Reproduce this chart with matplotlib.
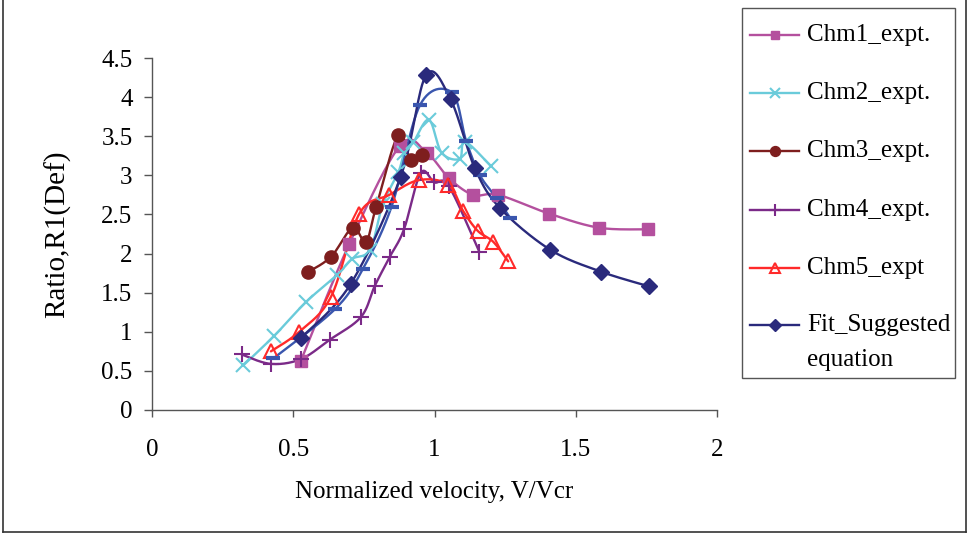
import numpy as np
import matplotlib
matplotlib.use("Agg")
import matplotlib.pyplot as plt
from matplotlib.lines import Line2D
from matplotlib.patches import Rectangle

# ---- data -------------------------------------------------------------
chm1_x = [0.527, 0.698, 0.878, 0.972, 1.052, 1.137, 1.226, 1.406, 1.583, 1.757]
chm1_y = [0.63, 2.12, 3.38, 3.29, 2.96, 2.75, 2.75, 2.51, 2.33, 2.31]

chm2_x = [0.323, 0.433, 0.545, 0.656, 0.708, 0.772, 0.817, 0.872, 0.893, 0.925,
          0.980, 1.025, 1.089, 1.108, 1.199]
chm2_y = [0.57, 0.95, 1.38, 1.73, 1.93, 2.05, 2.63, 3.04, 3.28, 3.42,
          3.71, 3.29, 3.21, 3.43, 3.12]

chm3_x = [0.551, 0.634, 0.710, 0.757, 0.793, 0.872, 0.916, 0.955]
chm3_y = [1.76, 1.96, 2.33, 2.15, 2.59, 3.52, 3.19, 3.26]

chm4_x = [0.317, 0.420, 0.527, 0.630, 0.740, 0.789, 0.842, 0.892, 0.951, 0.999,
          1.051, 1.159]
chm4_y = [0.71, 0.59, 0.65, 0.90, 1.19, 1.59, 1.96, 2.31, 3.03, 2.91,
          2.86, 2.02]

chm5_x = [0.421, 0.521, 0.634, 0.734, 0.840, 0.946, 1.049, 1.102, 1.153, 1.208, 1.261]
chm5_y = [0.75, 1.00, 1.45, 2.51, 2.75, 2.94, 2.88, 2.54, 2.29, 2.15, 1.90]

fit_x = [0.527, 0.703, 0.880, 0.970, 1.057, 1.143, 1.232, 1.409, 1.588, 1.760]
fit_y = [0.92, 1.61, 2.98, 4.28, 3.97, 3.09, 2.58, 2.05, 1.77, 1.58]

calc_x = [0.430, 0.648, 0.746, 0.848, 0.949, 1.061, 1.112, 1.161, 1.220, 1.267]
calc_y = [0.66, 1.29, 1.80, 2.60, 3.90, 4.06, 3.44, 3.00, 2.71, 2.46]

x_ticks = [0, 0.5, 1, 1.5, 2]
y_ticks = [0, 0.5, 1, 1.5, 2, 2.5, 3, 3.5, 4, 4.5]

# ---- figure -----------------------------------------------------------
plt.rcParams['font.family'] = ['Liberation Serif', 'DejaVu Serif']
W, H = 970, 536
fig = plt.figure(figsize=(W / 100, H / 100), dpi=100)

L, R, B, T = 152, 717, 410, 58
ax = fig.add_axes([L / W, 1 - B / H, (R - L) / W, (B - T) / H])
ax.set_xlim(0, 2)
ax.set_ylim(0, 4.5)
ax.set_xticks(x_ticks)
ax.set_xticklabels([f"{v:g}" for v in x_ticks])
ax.set_yticks(y_ticks)
ax.set_yticklabels([f"{v:g}" for v in y_ticks])
for s in ("top", "right"):
    ax.spines[s].set_visible(False)
for s in ("left", "bottom"):
    ax.spines[s].set_color("#555555")
    ax.spines[s].set_linewidth(1.0)
ax.tick_params(axis="y", direction="out", length=6, width=1, color="#555555",
               labelsize=18, pad=8)
ax.tick_params(axis="x", direction="out", length=5, width=1, color="#555555",
               labelsize=18, pad=16)
ax.set_xlabel("Normalized velocity, V/Vcr", fontsize=18, labelpad=14)
ax.set_ylabel("Ratio,R1(Def)", fontsize=21, labelpad=22)


def smooth(xs, ys, n=30):
    """Bezier smoothing through the points, computed in display space."""
    pts = ax.transData.transform(np.column_stack([xs, ys]))
    P = np.vstack([pts[0], pts, pts[-1]])
    out = []
    for i in range(1, len(P) - 2):
        p0, p1 = P[i], P[i + 1]
        c1 = p0 + (P[i + 1] - P[i - 1]) / 6.0
        c2 = p1 - (P[i + 2] - P[i]) / 6.0
        t = np.linspace(0, 1, n)[:, None]
        seg = ((1 - t) ** 3) * p0 + 3 * ((1 - t) ** 2) * t * c1 \
            + 3 * (1 - t) * t ** 2 * c2 + t ** 3 * p1
        out.append(seg if i == 1 else seg[1:])
    curve = ax.transData.inverted().transform(np.vstack(out))
    return curve[:, 0], curve[:, 1]


series = [
    # x, y, colour, marker, size, face, edge width, label
    (chm1_x, chm1_y, "#B4509E", "s", 8.5, "#B4509E", 1.0, "Chm1_expt."),
    (chm2_x, chm2_y, "#6ACBDA", "x", 10, "#6ACBDA", 1.5, "Chm2_expt."),
    (chm3_x, chm3_y, "#7E1E1E", "o", 9.5, "#7E1E1E", 1.0, "Chm3_expt."),
    (chm4_x, chm4_y, "#7B2A88", "+", 12, "#7B2A88", 1.5, "Chm4_expt."),
    (chm5_x, chm5_y, "#FF2A2A", "^", 10, "none", 1.5, "Chm5_expt"),
    (calc_x, calc_y, "#3A56AE", "_", 10, "#3A56AE", 3.0, None),
    (fit_x, fit_y, "#2A2A7C", "D", 8, "#2A2A7C", 1.0, "Fit_Suggested\nequation"),
]

for xs, ys, c, m, ms, fc, mew, lab in series:
    sx, sy = smooth(xs, ys)
    ax.plot(sx, sy, color=c, lw=1.7, solid_capstyle="round", zorder=2)
    ax.plot(xs, ys, ls="none", marker=m, ms=ms, mfc=fc, mec=c, mew=mew, zorder=3)

# ---- legend box -------------------------------------------------------
fig.add_artist(Rectangle((742 / W, 1 - 378 / H), (955 - 742) / W, (378 - 8) / H,
                         transform=fig.transFigure, fill=False,
                         edgecolor="#555555", lw=1.0))
rows = [35, 93, 151, 210, 268, 325]
legend_series = [s for s in series if s[7] is not None]
for (xs, ys, c, m, ms, fc, mew, lab), yy in zip(legend_series, rows):
    yf = 1 - yy / H
    fig.add_artist(Line2D([750 / W, 799 / W], [yf, yf], transform=fig.transFigure,
                          color=c, lw=1.7))
    fig.add_artist(Line2D([774.5 / W], [yf], transform=fig.transFigure,
                          marker=m, ms=ms * 0.75, mfc=fc, mec=c, mew=mew))
    for k, line in enumerate(lab.split("\n")):
        fig.text(807 / W, 1 - (yy + 35 * k) / H, line, fontsize=18,
                 va="center", ha="left")

# ---- outer frame ------------------------------------------------------
for xs_, ys_ in [([3, 3], [0, 532]), ([3, 966], [532, 532]), ([966, 966], [0, 532])]:
    fig.add_artist(Line2D([v / W for v in xs_], [1 - v / H for v in ys_],
                          transform=fig.transFigure, color="#333333", lw=1.2))

fig.savefig("out.png", dpi=100)
